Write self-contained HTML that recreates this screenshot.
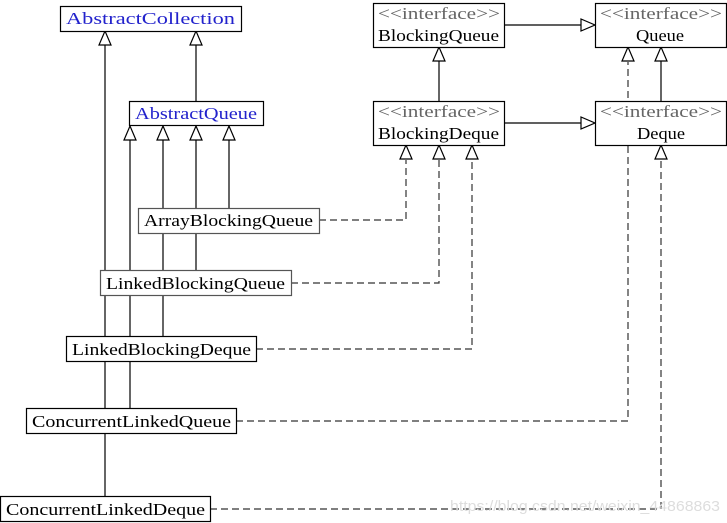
<!DOCTYPE html>
<html><head><style>html,body{margin:0;padding:0;background:#fff;}svg{display:block}</style></head>
<body>
<svg width="727" height="523" xmlns="http://www.w3.org/2000/svg" font-family="Liberation Serif, serif" font-size="17">
<defs>
<marker id="t" markerWidth="14" markerHeight="14" refX="1" refY="7" orient="auto" markerUnits="userSpaceOnUse">
<path d="M13,7 L1,1.5 L1,12.5 Z" fill="#fff" stroke="#000" stroke-width="1"/>
</marker>
</defs>
<g stroke="#000" stroke-width="1.2" fill="none">
<!-- solid inheritance -->
<line x1="105" y1="496" x2="105" y2="44"/>
<path d="M105,45 L99,45 L105,31 L111,45 Z" fill="#fff"/>
<line x1="196" y1="101" x2="196" y2="45"/>
<path d="M196,45 L190,45 L196,31 L202,45 Z" fill="#fff"/>
<line x1="130" y1="408" x2="130" y2="139"/>
<path d="M130,140 L124,140 L130,126 L136,140 Z" fill="#fff"/>
<line x1="163" y1="336" x2="163" y2="139"/>
<path d="M163,140 L157,140 L163,126 L169,140 Z" fill="#fff"/>
<line x1="196" y1="270" x2="196" y2="139"/>
<path d="M196,140 L190,140 L196,126 L202,140 Z" fill="#fff"/>
<line x1="229" y1="208" x2="229" y2="139"/>
<path d="M229,140 L223,140 L229,126 L235,140 Z" fill="#fff"/>
<line x1="439" y1="101" x2="439" y2="61"/>
<path d="M439,61 L433,61 L439,47 L445,61 Z" fill="#fff"/>
<line x1="661" y1="101" x2="661" y2="61"/>
<path d="M661,61 L655,61 L661,47 L667,61 Z" fill="#fff"/>
<line x1="504" y1="25" x2="581" y2="25"/>
<path d="M581,25 L581,19 L595,25 L581,31 Z" fill="#fff"/>
<line x1="504" y1="123" x2="581" y2="123"/>
<path d="M581,123 L581,117 L595,123 L581,129 Z" fill="#fff"/>
</g>
<g stroke="#333" stroke-width="1.2" fill="none" stroke-dasharray="7,4">
<polyline points="319,220 406,220 406,160"/>
<polyline points="291,283 439,283 439,160"/>
<polyline points="256,349 472,349 472,160"/>
<polyline points="236,421 628,421 628,62"/>
<polyline points="210,509 661,509 661,160"/>
</g>
<g stroke="#000" stroke-width="1.2" fill="#fff">
<path d="M406,159 L400,159 L406,145 L412,159 Z"/>
<path d="M439,159 L433,159 L439,145 L445,159 Z"/>
<path d="M472,159 L466,159 L472,145 L478,159 Z"/>
<path d="M628,61 L622,61 L628,47 L634,61 Z"/>
<path d="M661,159 L655,159 L661,145 L667,159 Z"/>
</g>
<g stroke="#000" stroke-width="1.2" fill="#fff">
<rect x="60.5" y="6.5" width="181" height="25"/>
<rect x="129.5" y="101.5" width="134" height="24"/>
<rect x="138.5" y="208.5" width="181" height="25" stroke="#555"/>
<rect x="100.5" y="270.5" width="191" height="25" stroke="#555"/>
<rect x="66.5" y="336.5" width="190" height="25"/>
<rect x="26.5" y="408.5" width="210" height="25"/>
<rect x="0.5" y="496.5" width="210" height="25"/>
<rect x="373.5" y="3.5" width="131" height="44"/>
<rect x="595.5" y="3.5" width="131" height="44"/>
<rect x="373.5" y="101.5" width="131" height="44"/>
<rect x="595.5" y="101.5" width="131" height="44"/>
</g>
<g fill="#000" lengthAdjust="spacingAndGlyphs">
<text x="66" y="24" textLength="169" lengthAdjust="spacingAndGlyphs" fill="#2222cc">AbstractCollection</text>
<text x="135" y="119" textLength="122" lengthAdjust="spacingAndGlyphs" fill="#2222cc">AbstractQueue</text>
<text x="144" y="226" textLength="169" lengthAdjust="spacingAndGlyphs">ArrayBlockingQueue</text>
<text x="106" y="289" textLength="179" lengthAdjust="spacingAndGlyphs">LinkedBlockingQueue</text>
<text x="72" y="355" textLength="179" lengthAdjust="spacingAndGlyphs">LinkedBlockingDeque</text>
<text x="32" y="427" textLength="199" lengthAdjust="spacingAndGlyphs">ConcurrentLinkedQueue</text>
<text x="6" y="515" textLength="199" lengthAdjust="spacingAndGlyphs">ConcurrentLinkedDeque</text>
<text x="378" y="19" textLength="122" lengthAdjust="spacingAndGlyphs" fill="#666">&lt;&lt;interface&gt;&gt;</text>
<text x="378" y="41" textLength="121" lengthAdjust="spacingAndGlyphs">BlockingQueue</text>
<text x="600" y="19" textLength="122" lengthAdjust="spacingAndGlyphs" fill="#666">&lt;&lt;interface&gt;&gt;</text>
<text x="636" y="41" textLength="48" lengthAdjust="spacingAndGlyphs">Queue</text>
<text x="378" y="117" textLength="122" lengthAdjust="spacingAndGlyphs" fill="#666">&lt;&lt;interface&gt;&gt;</text>
<text x="378" y="139" textLength="121" lengthAdjust="spacingAndGlyphs">BlockingDeque</text>
<text x="600" y="117" textLength="122" lengthAdjust="spacingAndGlyphs" fill="#666">&lt;&lt;interface&gt;&gt;</text>
<text x="637" y="139" textLength="48" lengthAdjust="spacingAndGlyphs">Deque</text>
<text x="450" y="511" font-family="Liberation Sans, sans-serif" font-size="15" textLength="270" lengthAdjust="spacingAndGlyphs" fill="#ddd">https://blog.csdn.net/weixin_44868863</text>
</g>
</svg>
</body></html>
